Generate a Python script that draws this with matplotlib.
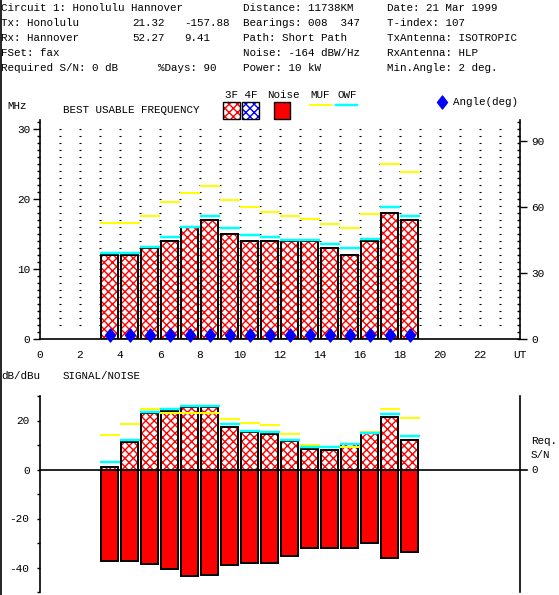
import numpy as np
import matplotlib
matplotlib.use("Agg")
import matplotlib.pyplot as plt
from matplotlib.patches import Rectangle
from matplotlib.path import Path

plt.rcParams['font.family'] = ['Liberation Mono', 'DejaVu Sans Mono']
plt.rcParams['hatch.linewidth'] = 1.0
plt.rcParams['axes.unicode_minus'] = False

# start hour of each UT slot (slot h .. h+1)
slot_start = list(range(3, 19))
buf_mhz = [12, 12, 13, 14, 16, 17, 15, 14, 14, 14, 14, 13, 12, 14, 18, 17]
muf_mhz = [16.6, 16.6, 17.5, 19.5, 20.9, 21.8, 19.9, 18.8, 18.1, 17.6, 17.2, 16.4, 15.9, 17.8, 25.0, 23.8]
owf_mhz = [12.3, 12.3, 13.1, 14.6, 16.0, 17.5, 15.8, 14.9, 14.5, 14.2, 14.1, 13.5, 13.0, 14.3, 18.9, 17.5]
angle_deg = [2] * 16

snr_db = [1.1, 11.4, 23.1, 24.0, 25.7, 25.7, 17.4, 15.4, 14.6, 11.7, 8.4, 8.0, 10.5, 14.7, 21.5, 12.1]
noise_db = [-37.4, -37.4, -38.5, -40.5, -43.4, -43.0, -38.9, -38.1, -38.1, -35.2, -32.0, -32.0, -32.0, -30.0, -36.1, -33.6]
snr_muf = [14.0, 18.5, 24.5, 23.1, 23.0, 23.0, 20.5, 18.9, 18.1, 14.3, 9.9, 9.1, 9.3, 15.4, 24.6, 20.9]
snr_owf = [3.0, 12.2, 23.5, 24.6, 25.8, 25.8, 18.5, 15.9, 15.2, 12.2, 9.3, 9.1, 10.5, 14.8, 22.6, 13.6]

x_ticks = list(range(0, 25, 2))
x_labels = [str(t) for t in x_ticks[:-1]] + ['UT']

header_rows = [
    [(1, "Circuit 1: Honolulu Hannover"), (243, "Distance: 11738KM"), (387, "Date: 21 Mar 1999")],
    [(1, "Tx: Honolulu"), (132, "21.32"), (184, "-157.88"), (243, "Bearings: 008  347"), (387, "T-index: 107")],
    [(1, "Rx: Hannover"), (132, "52.27"), (184, "9.41"), (243, "Path: Short Path"), (387, "TxAntenna: ISOTROPIC")],
    [(1, "FSet: fax"), (243, "Noise: -164 dBW/Hz"), (387, "RxAntenna: HLP")],
    [(1, "Required S/N: 0 dB"), (158, "%Days: 90"), (243, "Power: 10 kW"), (387, "Min.Angle: 2 deg.")],
]

RED = '#ff0000'
BLUE = '#0000ff'
YEL = '#ffff00'
CYAN = '#00ffff'
W, H = 559, 595
PX = 0.72  # points per pixel at dpi 100
HATCH = 'xxxx'

diamond = Path([(0, 0.5), (0.385, 0), (0, -0.5), (-0.385, 0), (0, 0.5)],
               [Path.MOVETO, Path.LINETO, Path.LINETO, Path.LINETO, Path.CLOSEPOLY])

fig = plt.figure(figsize=(W / 100, H / 100), dpi=100)


def hatched_bars(axis, left, heights):
    axis.bar(left, heights, width=0.82, align='edge', facecolor='white',
             edgecolor=RED, hatch=HATCH, lw=0, zorder=2)
    axis.bar(left, heights, width=0.82, align='edge', fill=False,
             edgecolor='black', lw=1.4, zorder=3)


lefts = [h + 0.06 for h in slot_start]
centers = [h + 0.5 for h in slot_start]

# ---------------- top: best usable frequency ----------------
ax = fig.add_axes([40 / W, 1 - 339 / H, 480 / W, 219 / H])
ax.set_xlim(0, 24)
ax.set_ylim(0, 219 / 7)
gx, gy = np.meshgrid(np.arange(1, 24), np.arange(2, 31))
ax.plot(gx.ravel(), gy.ravel(), ls='none', marker='_', ms=1.6, mew=0.8, color='black', zorder=1)
hatched_bars(ax, lefts, buf_mhz)
ax.hlines(muf_mhz, slot_start, [h + 1 for h in slot_start], colors=YEL, lw=2 * PX, zorder=4)
ax.hlines(owf_mhz, slot_start, [h + 1 for h in slot_start], colors=CYAN, lw=2.5 * PX, zorder=5)
for s in ['top', 'right']:
    ax.spines[s].set_visible(False)
ax.spines['left'].set_linewidth(1.2)
ax.spines['bottom'].set_linewidth(1.2)
ax.set_yticks([0, 10, 20, 30])
ax.set_yticks(range(0, 32), minor=True)
ax.tick_params(axis='y', which='major', length=7 * PX, width=1, pad=2, labelsize=8)
ax.tick_params(axis='y', which='minor', length=3 * PX, width=1)
ax.set_xticks(x_ticks, x_labels)
ax.tick_params(axis='x', length=0, pad=8, labelsize=8)

ax_r = ax.twinx()
ax_r.set_ylim(0, 219 / 7)
ax_r.set_yticks(range(0, 32))
ax_r.tick_params(axis='y', length=3 * PX, width=1, direction='in', labelright=False)
for s in ['top', 'left', 'bottom', 'right']:
    ax_r.spines[s].set_visible(False)

ax_a = ax.twinx()
ax_a.set_ylim(0, 219 / 2.2)
ax_a.set_yticks([0, 30, 60, 90])
ax_a.tick_params(axis='y', length=7 * PX, width=1, pad=3, labelsize=8)
for s in ['top', 'left', 'bottom']:
    ax_a.spines[s].set_visible(False)
ax_a.spines['right'].set_linewidth(1.2)
ax_a.plot(centers, angle_deg, ls='none', marker=diamond, ms=13 * PX, color=BLUE,
          mec=BLUE, clip_on=False, zorder=6)

# ---------------- bottom: signal / noise ----------------
ax2 = fig.add_axes([40 / W, 1 - 592 / H, 480 / W, 196 / H])
ax2.set_xlim(0, 24)
ax2.set_ylim(-50, 30)
hatched_bars(ax2, lefts, snr_db)
ax2.bar(lefts, noise_db, width=0.82, align='edge', color=RED, edgecolor='black', lw=1.4, zorder=3)
ax2.hlines(snr_muf, slot_start, [h + 1 for h in slot_start], colors=YEL, lw=2 * PX, zorder=4)
ax2.hlines(snr_owf, slot_start, [h + 1 for h in slot_start], colors=CYAN, lw=2.5 * PX, zorder=5)
ax2.plot([0, 24.35], [0, 0], color='black', lw=1.2, clip_on=False, zorder=6)
for s in ['top', 'bottom']:
    ax2.spines[s].set_visible(False)
ax2.spines['left'].set_linewidth(1.2)
ax2.spines['right'].set_linewidth(1.2)
ax2.set_xticks([])
ax2.set_yticks([-40, -20, 0, 20])
ax2.set_yticks(range(-50, 31, 10), minor=True)
ax2.tick_params(axis='y', which='both', length=3.5 * PX, width=1, pad=5, labelsize=8)

# ---------------- overlay: header, legend, labels ----------------
ov = fig.add_axes([0, 0, 1, 1], zorder=10)
ov.set_xlim(0, W)
ov.set_ylim(H, 0)
ov.axis('off')
ov.patch.set_alpha(0)
ov.plot([0.8, 0.8], [0, H], color='black', lw=1.2)

row_y = [8, 23, 38, 53, 68]
for y, row in zip(row_y, header_rows):
    for x, txt in row:
        ov.text(x, y, txt, fontsize=7.8, va='center', ha='left')

ov.text(7, 106, "MHz", fontsize=7.8, va='center')
ov.text(63, 110, "BEST USABLE FREQUENCY", fontsize=7.8, va='center')
ov.text(225, 95, "3F 4F", fontsize=7.8, va='center')
for x0, col in [(223, RED), (242, BLUE)]:
    ov.add_patch(Rectangle((x0, 102), 17, 17, facecolor='white', edgecolor=col, hatch=HATCH, lw=0))
    ov.add_patch(Rectangle((x0, 102), 17, 17, fill=False, edgecolor='black', lw=1))
ov.text(267, 95, "Noise", fontsize=7.8, va='center')
ov.add_patch(Rectangle((274, 102), 16, 17, facecolor=RED, edgecolor='black', lw=1))
ov.text(310, 95, "MUF", fontsize=7.8, va='center')
ov.plot([310, 331], [105, 105], color=YEL, lw=2 * PX)
ov.text(337, 95, "OWF", fontsize=7.8, va='center')
ov.plot([336, 357], [105, 105], color=CYAN, lw=2.5 * PX)
ov.plot([442], [102], marker=diamond, ms=13 * PX, color=BLUE, ls='none')
ov.text(453, 102, "Angle(deg)", fontsize=7.8, va='center')

ov.text(1, 376, "dB/dBu", fontsize=7.8, va='center')
ov.text(63, 376, "SIGNAL/NOISE", fontsize=7.8, va='center')
ov.text(531, 441, "Req.", fontsize=7.8, va='center')
ov.text(531, 455, "S/N", fontsize=7.8, va='center')
ov.text(531, 470, "0", fontsize=7.8, va='center')

fig.savefig("out.png", dpi=100)
